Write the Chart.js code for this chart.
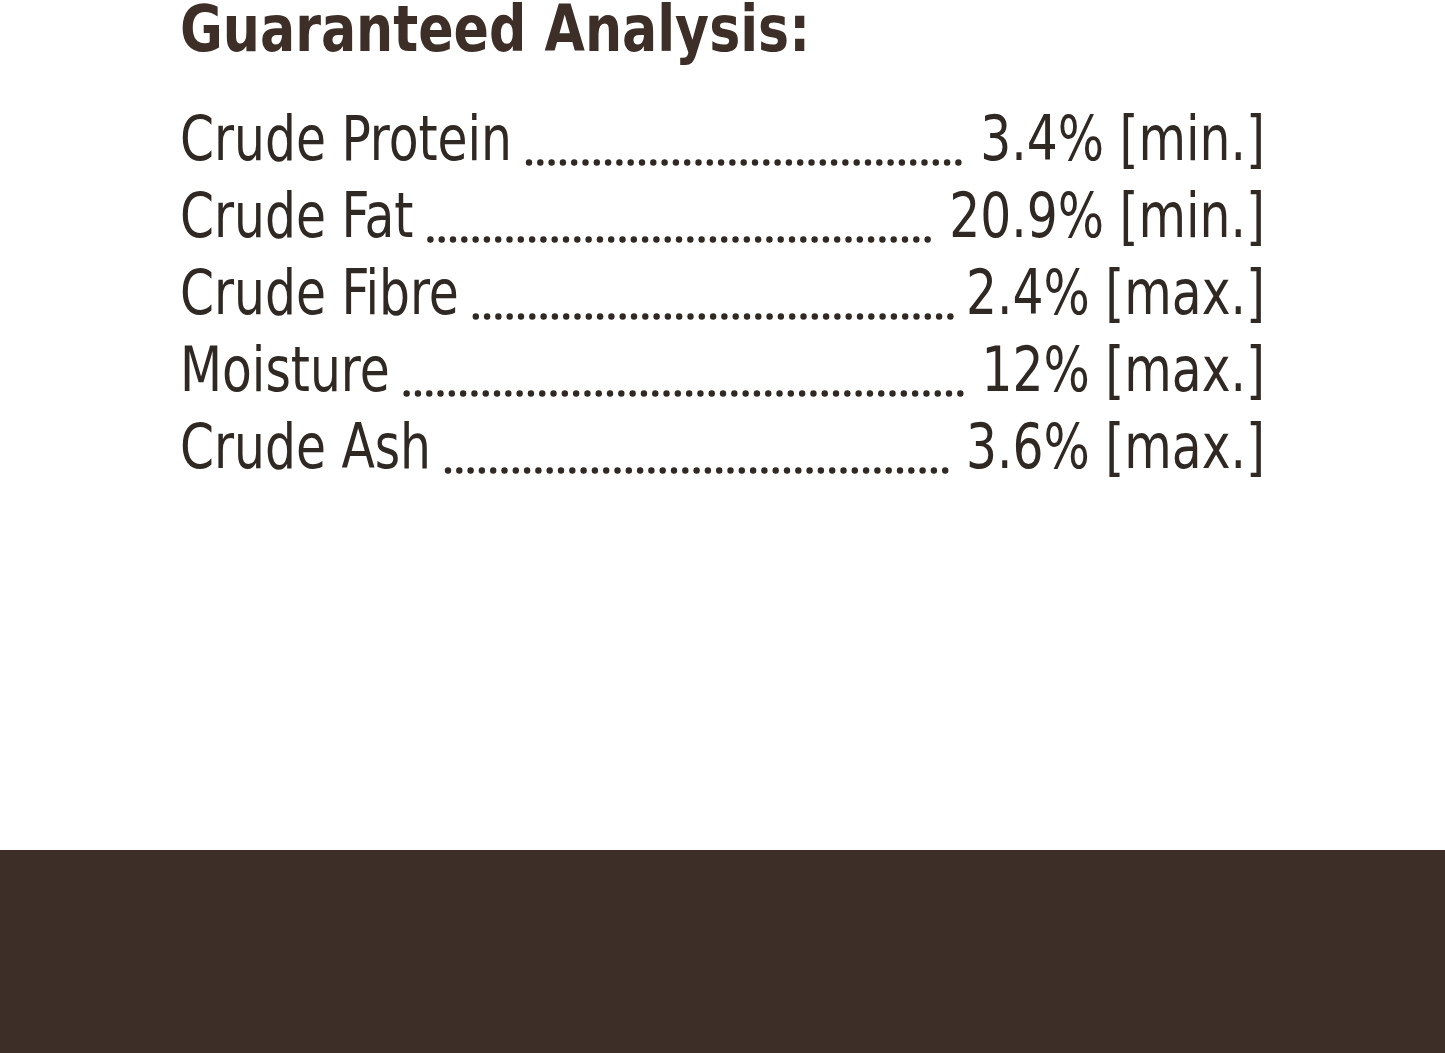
<!DOCTYPE html>
<html>
<head>
<meta charset="utf-8">
<script src="https://cdn.jsdelivr.net/npm/chart.js@4/dist/chart.umd.min.js"></script>
<style>
  html, body { margin: 0; padding: 0; background: #fff; }
  #wrap { width: 1445px; height: 1053px; position: relative; }
</style>
</head>
<body>
<div id="wrap"><canvas id="tabla"></canvas></div>
<script>
/* Datos de la tabla */
var nutrientes = ['Crude Protein', 'Crude Fat', 'Crude Fibre', 'Moisture', 'Crude Ash'];
var valores = [3.4, 20.9, 2.4, 12, 3.6];
var limites = ['[min.]', '[min.]', '[max.]', '[max.]', '[max.]'];
var titulo = 'Guaranteed Analysis:';

var MARRON = '#3d2f27';
var TEXTO = '#2f2823';
var FUENTE = '"DejaVu Sans Condensed", "Liberation Sans Narrow", sans-serif';

/* Dibuja texto comprimido horizontalmente (tipo DIN condensada) */
function texto(ctx, s, x, y, align, escala) {
  ctx.save();
  ctx.translate(x, y);
  ctx.scale(escala, 1);
  ctx.textAlign = align;
  ctx.fillText(s, 0, 0);
  ctx.restore();
  return ctx.measureText(s).width * escala;
}

var tablaPlugin = {
  id: 'tabla',
  beforeDraw: function (chart) {
    var ctx = chart.ctx;
    ctx.save();
    ctx.fillStyle = '#ffffff';
    ctx.fillRect(0, 0, chart.width, chart.height);
    ctx.fillStyle = MARRON;
    ctx.fillRect(0, 850, chart.width, chart.height - 850);
    ctx.restore();
  },
  afterDraw: function (chart) {
    var ctx = chart.ctx;
    var yEje = chart.scales.y;
    var izq = 180, der = 1265;
    ctx.save();
    ctx.textBaseline = 'middle';

    /* título */
    ctx.fillStyle = MARRON;
    ctx.font = 'bold 64px ' + FUENTE;
    var wt = ctx.measureText(titulo).width;
    texto(ctx, titulo, izq, 34, 'left', 630 / wt);

    /* escala para que "Crude Protein" mida como en la etiqueta */
    ctx.font = '62px ' + FUENTE;
    var esc = 332 / ctx.measureText('Crude Protein').width;
    ctx.fillStyle = TEXTO;

    for (var i = 0; i < nutrientes.length; i++) {
      var y = yEje.getPixelForValue(i);
      var wl = texto(ctx, nutrientes[i], izq, y, 'left', esc);
      var derecha = valores[i] + '% ' + limites[i];
      var wr = texto(ctx, derecha, der, y, 'right', esc);
      /* puntos guía */
      var x0 = izq + wl + 14, x1 = der - wr - 12;
      for (var x = x0; x < x1 - 4; x += 11.3) {
        ctx.beginPath();
        ctx.arc(x + 3, y + 19, 3.2, 0, Math.PI * 2);
        ctx.fill();
      }
    }
    ctx.restore();
  }
};

new Chart(document.getElementById('tabla'), {
  type: 'bar',
  data: {
    labels: nutrientes,
    datasets: [{ data: valores, backgroundColor: 'rgba(0,0,0,0)', borderWidth: 0 }]
  },
  options: {
    indexAxis: 'y',
    responsive: true,
    maintainAspectRatio: false,
    animation: false,
    layout: { padding: { top: 105, bottom: 563, left: 180, right: 180 } },
    plugins: { legend: { display: false }, tooltip: { enabled: false } },
    scales: {
      x: { display: false, min: 0, max: 25 },
      y: { display: false }
    }
  },
  plugins: [tablaPlugin]
});
</script>
</body>
</html>
